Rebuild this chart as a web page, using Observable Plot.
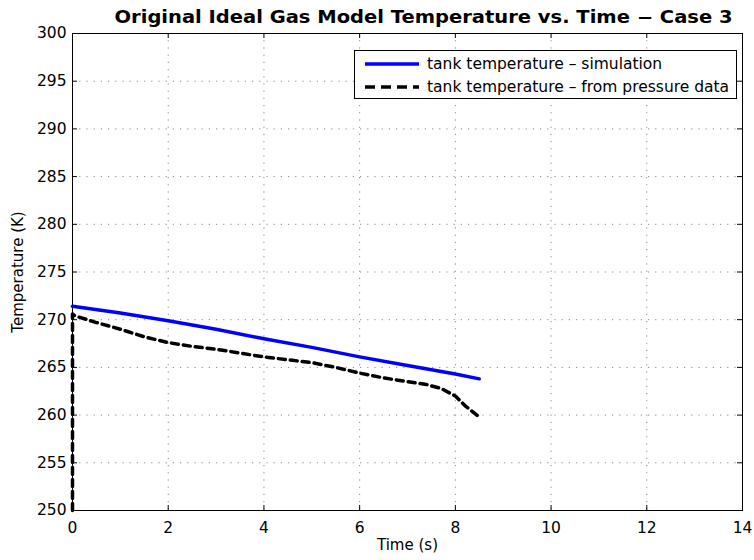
<!DOCTYPE html>
<html><head><meta charset="utf-8">
<script src="https://cdn.jsdelivr.net/npm/d3@7"></script>
<script src="https://cdn.jsdelivr.net/npm/@observablehq/plot@0.6"></script>
<style>
body{margin:0;background:#fff;}
#wrap{position:relative;width:754px;height:560px;font-family:"DejaVu Sans",sans-serif;}
#legend{position:absolute;left:354px;top:50px;width:381px;height:47px;border:1px solid #000;background:#fff;font-size:15.5px;color:#000;}
.row{position:absolute;left:0;height:20px;display:flex;align-items:center;white-space:nowrap;}
.row svg{margin-left:10px;margin-right:8px;}
</style></head><body><div id="wrap"></div>
<script>
const titleText = "Original Ideal Gas Model Temperature vs. Time − Case 3";
const xLabel = "Time (s)";
const yLabel = "Temperature (K)";
const xDomain = [0, 14];
const yDomain = [250, 300];
const xTicks = [0, 2, 4, 6, 8, 10, 12, 14];
const yTicks = [250, 255, 260, 265, 270, 275, 280, 285, 290, 295, 300];
const seriesNames = ["tank temperature – simulation", "tank temperature – from pressure data"];
const seriesColors = ["#0000ff", "#000000"];

const simTime = [0, 1, 2, 3, 4, 5, 6, 7, 8, 8.5];
const simTemp = [271.4, 270.7, 269.9, 269.0, 268.0, 267.1, 266.1, 265.2, 264.3, 263.8];

const dataTime = [0, 0, 0.05, 0.5, 1, 1.5, 2, 2.5, 3, 3.5, 4, 4.5, 5, 5.5, 6, 6.5, 7, 7.4, 7.7, 8.0, 8.2, 8.35, 8.5];
const dataTemp = [250, 270.6, 270.4, 269.7, 269.0, 268.2, 267.6, 267.2, 266.9, 266.5, 266.1, 265.8, 265.5, 265.0, 264.4, 263.9, 263.5, 263.2, 262.8, 262.0, 261.0, 260.4, 259.8];

const sim = simTime.map((t, i) => ({t, T: simTemp[i]}));
const dat = dataTime.map((t, i) => ({t, T: dataTemp[i]}));

const gridStyle = {stroke: "#8a8a8a", strokeOpacity: 1, strokeDasharray: "1.2,6"};
const tickLen = 5;

const chart = Plot.plot({
  width: 754, height: 560,
  marginLeft: 72, marginRight: 12, marginTop: 33, marginBottom: 50,
  style: {fontFamily: "DejaVu Sans, sans-serif", fontSize: "15.5px", background: "white", color: "black"},
  x: {domain: xDomain},
  y: {domain: yDomain},
  marks: [
    Plot.gridX(xTicks, gridStyle),
    Plot.gridY(yTicks, gridStyle),
    // inward tick marks on all four sides
    Plot.ruleX(xTicks, {x: d => d, y1: yDomain[0], y2: yDomain[0], insetTop: -tickLen, stroke: "black"}),
    Plot.ruleX(xTicks, {x: d => d, y1: yDomain[1], y2: yDomain[1], insetBottom: -tickLen, stroke: "black"}),
    Plot.ruleY(yTicks, {y: d => d, x1: xDomain[0], x2: xDomain[0], insetRight: -tickLen, stroke: "black"}),
    Plot.ruleY(yTicks, {y: d => d, x1: xDomain[1], x2: xDomain[1], insetLeft: -tickLen, stroke: "black"}),
    // tick labels
    Plot.axisX(xTicks, {anchor: "bottom", tickSize: 0, tickPadding: 11, label: null, fontSize: 15.5}),
    Plot.axisY(yTicks, {anchor: "left", tickSize: 0, tickPadding: 6, label: null, fontSize: 15.5}),
    Plot.frame({stroke: "black"}),
    Plot.line(sim, {x: "t", y: "T", stroke: seriesColors[0], strokeWidth: 3.5}),
    Plot.line(dat, {x: "t", y: "T", stroke: seriesColors[1], strokeWidth: 3.5, strokeDasharray: "7,5"}),
    Plot.text([titleText], {frameAnchor: "top", dx: 16, dy: -11, fontSize: 17, fontWeight: "bold", lineAnchor: "bottom"}),
    Plot.text([xLabel], {frameAnchor: "bottom", dy: 39, fontSize: 15, textAnchor: "middle"}),
    Plot.text([yLabel], {frameAnchor: "left", dx: -54, rotate: -90, fontSize: 15, textAnchor: "middle"})
  ]
});

d3.select(chart).selectAll("text").filter(function() { return this.textContent === titleText; })
  .attr("textLength", 618).attr("lengthAdjust", "spacingAndGlyphs");

const wrap = document.getElementById("wrap");
wrap.appendChild(chart);

const legend = document.createElement("div");
legend.id = "legend";
seriesNames.forEach((name, i) => {
  const row = document.createElement("div");
  row.className = "row";
  row.style.top = (i === 0 ? 3 : 26) + "px";
  const dash = i === 1 ? ' stroke-dasharray="10,6"' : "";
  row.innerHTML = `<svg width="54" height="8"><line x1="0" y1="4" x2="54" y2="4" stroke="${seriesColors[i]}" stroke-width="3.5"${dash}/></svg><span>${name}</span>`;
  legend.appendChild(row);
});
wrap.appendChild(legend);
</script></body></html>
